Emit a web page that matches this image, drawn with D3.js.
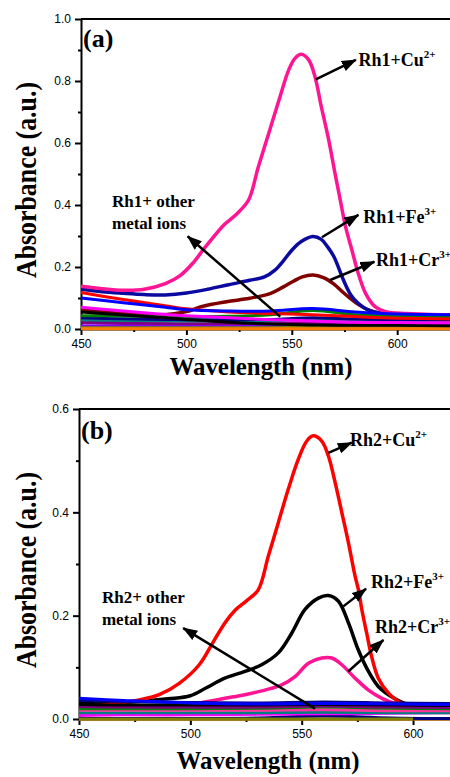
<!DOCTYPE html>
<html>
<head>
<meta charset="utf-8">
<script src="https://cdn.jsdelivr.net/npm/d3@7"></script>
<style>
  body { margin: 0; background: #fff; }
  svg { display: block; background: #fff; }
  .tick text { font-family: "Liberation Sans", Arial, sans-serif; font-size: 12px; fill: #000; }
  .serif { font-family: "Liberation Serif", "Times New Roman", serif; font-weight: bold; fill: #000; }
</style>
</head>
<body>
<script>
// ---------- Panel (a): Rh1 with metal ions ----------
const cuA_nm  = [450,460,470,480,490,497,503,508,513,518,524,529.5,534,539,544,548.5,551.5,554.5,558,561,564,567.5,570.5,573,575.5,578.5,581.5,585,589.5,594.5,605,626];
const cuA_abs = [0.138,0.130,0.125,0.128,0.146,0.172,0.212,0.256,0.298,0.337,0.372,0.416,0.52,0.63,0.74,0.835,0.873,0.886,0.868,0.814,0.717,0.61,0.502,0.416,0.33,0.255,0.18,0.115,0.072,0.056,0.05,0.045];

const feA_nm  = [450,460,470,480,490,500,510,520,530,537,542,546,550,554.5,560,564,567,570,574.5,578,581.5,586,594,605,626];
const feA_abs = [0.128,0.12,0.115,0.111,0.11,0.116,0.128,0.143,0.157,0.168,0.19,0.22,0.254,0.282,0.298,0.289,0.265,0.233,0.158,0.11,0.083,0.062,0.05,0.046,0.045];

const crA_nm  = [450,470,487,500,507,519,530,540,546,551,555,560,565,570,574,578,582,587,592,600,626];
const crA_abs = [0.062,0.05,0.046,0.056,0.072,0.088,0.099,0.115,0.136,0.155,0.168,0.174,0.166,0.145,0.12,0.097,0.077,0.06,0.05,0.045,0.04];

// remaining metal ions, sampled on a common grid
const otherA_nm = [450,470,490,500,520,540,560,580,600,626];
const otherA_red     = [0.118,0.095,0.075,0.065,0.055,0.05,0.046,0.04,0.035,0.032];
const otherA_blue    = [0.1,0.085,0.07,0.062,0.058,0.058,0.066,0.055,0.048,0.046];
const otherA_magenta = [0.07,0.058,0.047,0.043,0.036,0.03,0.026,0.022,0.021,0.02];
const otherA_black   = [0.055,0.045,0.036,0.031,0.022,0.016,0.013,0.012,0.012,0.01];
const otherA_green   = [0.043,0.042,0.04,0.04,0.041,0.046,0.06,0.046,0.041,0.04];
const otherA_navy    = [0.036,0.033,0.031,0.03,0.03,0.031,0.036,0.032,0.03,0.03];
const otherA_teal    = [0.028,0.026,0.025,0.025,0.025,0.026,0.03,0.025,0.022,0.022];
const otherA_purple  = [0.02,0.018,0.017,0.016,0.016,0.017,0.018,0.016,0.016,0.016];
const otherA_violet  = [0.01,0.009,0.008,0.008,0.008,0.008,0.009,0.008,0.008,0.008];
const otherA_olive   = [0.004,0.004,0.004,0.004,0.004,0.004,0.005,0.004,0.004,0.004];
const otherA_orange  = [0.001,0.001,0.001,0.001,0.001,0.001,0.001,0.001,0.001,0.001];

// ---------- Panel (b): Rh2 with metal ions ----------
const cuB_nm  = [450,460,470,477,486,495,504,510,515.5,520,525,530.5,535,539.5,544,548.5,552.3,555.2,559,562,565,568,571,574,575.5,577,579.2,581.4,584.4,589,595,602,618];
const cuB_abs = [0.02,0.026,0.032,0.037,0.047,0.069,0.105,0.147,0.186,0.21,0.228,0.25,0.315,0.38,0.445,0.503,0.538,0.548,0.538,0.509,0.458,0.4,0.341,0.276,0.25,0.212,0.166,0.121,0.079,0.05,0.03,0.024,0.02];

const feB_nm  = [450,470,490,500,507,515.5,524.5,532,539.5,545.5,551.5,557.5,562,566.5,571,575.4,580,584.4,590.4,596.4,605.4,618];
const feB_abs = [0.03,0.032,0.039,0.045,0.06,0.079,0.092,0.105,0.128,0.166,0.212,0.234,0.239,0.228,0.186,0.134,0.092,0.063,0.043,0.03,0.024,0.022];

const crB_nm  = [450,480,495,504,515.5,524.5,533.5,541,547,553,559,563.5,568,574,580,586,592,599.5,618];
const crB_abs = [0.02,0.022,0.025,0.031,0.04,0.047,0.056,0.066,0.082,0.108,0.118,0.118,0.105,0.079,0.056,0.04,0.03,0.024,0.02];

const otherB_nm = [450,470,500,530,560,590,618];
const otherB_blue    = [0.04,0.036,0.031,0.029,0.03,0.029,0.028];
const otherB_navy    = [0.036,0.034,0.032,0.031,0.033,0.031,0.03];
const otherB_black   = [0.028,0.027,0.027,0.027,0.028,0.027,0.026];
const otherB_purple  = [0.024,0.023,0.023,0.023,0.025,0.023,0.022];
const otherB_green   = [0.02,0.02,0.02,0.021,0.023,0.021,0.02];
const otherB_pink    = [0.017,0.017,0.017,0.017,0.018,0.016,0.016];
const otherB_teal    = [0.012,0.012,0.012,0.012,0.013,0.012,0.012];
const otherB_magenta = [0.007,0.008,0.008,0.009,0.01,0.011,0.012];
const otherB_navy2   = [0.001,0.001,0.001,0.002,0.006,0.002,0.001];
const otherB_orange  = [0,0,0,0,0,0,0];
const oliveB_nm  = [450,500,550,600];
const oliveB_abs = [0,0,0,0];

// axis ticks
const xMajor = [450,500,550,600];
const xMinor = [475,525,575];
const yMajorA = [0,0.2,0.4,0.6,0.8,1.0];
const yMinorA = [0.1,0.3,0.5,0.7,0.9];
const yMajorB = [0,0.2,0.4,0.6];
const yMinorB = [0.1,0.3,0.5];

// ---------- drawing ----------
const W = 450, H = 777;
const svg = d3.select("body").append("svg").attr("width", W).attr("height", H);

const defs = svg.append("defs");
defs.append("marker")
  .attr("id", "head")
  .attr("markerUnits", "userSpaceOnUse")
  .attr("viewBox", "0 0 15 11")
  .attr("markerWidth", 15).attr("markerHeight", 11)
  .attr("refX", 14).attr("refY", 5.5)
  .attr("orient", "auto")
  .append("path").attr("d", "M0,0 L15,5.5 L0,11 Z").attr("fill", "#000");

function drawPanel(p) {
  const x = d3.scaleLinear().domain(p.xDomain).range(p.xRange);
  const y = d3.scaleLinear().domain(p.yDomain).range(p.yRange);
  const g = svg.append("g");

  // frame: top border
  g.append("line")
    .attr("x1", p.xRange[0]).attr("x2", p.xRange[1])
    .attr("y1", p.yRange[1]).attr("y2", p.yRange[1])
    .attr("stroke", "#000").attr("stroke-width", 2);

  // left axis
  const yAxis = g.append("g").attr("transform", `translate(${p.xRange[0]},0)`)
    .call(d3.axisLeft(y).tickValues(p.yMajor).tickFormat(d3.format(".1f"))
      .tickSize(6).tickSizeOuter(0).tickPadding(4));
  yAxis.select(".domain").attr("stroke-width", 2);
  yAxis.selectAll(".tick line").attr("stroke-width", 2);
  g.append("g").attr("transform", `translate(${p.xRange[0]},0)`)
    .call(d3.axisLeft(y).tickValues(p.yMinor).tickFormat("").tickSize(3).tickSizeOuter(0))
    .call(s => s.select(".domain").remove())
    .selectAll(".tick line").attr("stroke-width", 2);

  // bottom axis
  const xAxis = g.append("g").attr("transform", `translate(0,${p.yRange[0]})`)
    .call(d3.axisBottom(x).tickValues(xMajor).tickFormat(d3.format("d"))
      .tickSize(6).tickSizeOuter(0).tickPadding(4));
  xAxis.select(".domain").attr("stroke-width", 2);
  xAxis.selectAll(".tick line").attr("stroke-width", 2);
  g.append("g").attr("transform", `translate(0,${p.yRange[0]})`)
    .call(d3.axisBottom(x).tickValues(xMinor).tickFormat("").tickSize(3).tickSizeOuter(0))
    .call(s => s.select(".domain").remove())
    .selectAll(".tick line").attr("stroke-width", 2);

  // spectra
  const line = d3.line()
    .x(d => x(d[0])).y(d => y(d[1]))
    .curve(d3.curveCatmullRom.alpha(0.5));
  g.append("g").selectAll("path")
    .data(p.series)
    .join("path")
    .attr("d", s => line(d3.zip(s.nm, s.abs)))
    .attr("fill", "none")
    .attr("stroke", s => s.color)
    .attr("stroke-width", s => s.width)
    .attr("stroke-linejoin", "round")
    .attr("stroke-linecap", "butt");

  // arrows
  g.append("g").selectAll("line")
    .data(p.arrows)
    .join("line")
    .attr("x1", a => x(a.from[0])).attr("y1", a => y(a.from[1]))
    .attr("x2", a => x(a.to[0])).attr("y2", a => y(a.to[1]))
    .attr("stroke", "#000").attr("stroke-width", 2.5)
    .attr("marker-end", "url(#head)");

  // ion labels
  p.labels.forEach(l => {
    const t = g.append("text").attr("class", "serif")
      .attr("x", x(l.at[0])).attr("y", y(l.at[1]))
      .attr("font-size", 18);
    t.append("tspan").text(l.text);
    if (l.sup) t.append("tspan").attr("font-size", 11).attr("dy", -8).text(l.sup);
  });

  // "other metal ions" note
  p.note.lines.forEach((txt, i) => {
    g.append("text").attr("class", "serif")
      .attr("x", x(p.note.at[0])).attr("y", y(p.note.at[1]) + i * 22)
      .attr("font-size", 17).text(txt);
  });

  // panel tag
  g.append("text").attr("class", "serif")
    .attr("x", p.xRange[0] + 2).attr("y", p.tagY)
    .attr("font-size", 26).text(p.tag);

  // axis titles
  const yMid = (p.yRange[0] + p.yRange[1]) / 2 + 6;
  g.append("text").attr("class", "serif")
    .attr("transform", `translate(36,${yMid}) rotate(-90)`)
    .attr("text-anchor", "middle")
    .attr("font-size", 29)
    .attr("textLength", 196).attr("lengthAdjust", "spacingAndGlyphs")
    .text("Absorbance (a.u.)");
  g.append("text").attr("class", "serif")
    .attr("x", p.xTitleX).attr("y", p.xTitleY)
    .attr("text-anchor", "middle")
    .attr("font-size", 26)
    .attr("textLength", 183).attr("lengthAdjust", "spacingAndGlyphs")
    .text("Wavelength (nm)");
}

const othersA = [
  ["#008080", otherA_teal], ["#800080", otherA_purple], ["#8000ff", otherA_violet],
  ["#808000", otherA_olive], ["#ff8000", otherA_orange], ["#000080", otherA_navy],
  ["#008000", otherA_green], ["#000000", otherA_black], ["#ff00ff", otherA_magenta],
  ["#ff0000", otherA_red], ["#0000ff", otherA_blue]
].map(([c, v]) => ({ nm: otherA_nm, abs: v, color: c, width: 3 }));

drawPanel({
  xDomain: [450, 626], xRange: [81, 452],
  yDomain: [0, 1], yRange: [329, 19],
  yMajor: yMajorA, yMinor: yMinorA,
  series: [
    { nm: crA_nm, abs: crA_abs, color: "#800000", width: 3.5 },
    { nm: feA_nm, abs: feA_abs, color: "#0a0aa0", width: 3.5 },
    { nm: cuA_nm, abs: cuA_abs, color: "#ff1493", width: 3.5 },
    ...othersA
  ],
  arrows: [
    { from: [561.4, 0.805], to: [580.4, 0.868] },
    { from: [564.3, 0.296], to: [581.6, 0.368] },
    { from: [568.2, 0.158], to: [589.2, 0.217] },
    { from: [544.5, 0.040], to: [500.6, 0.299] }
  ],
  labels: [
    { at: [581.6, 0.848], text: "Rh1+Cu", sup: "2+" },
    { at: [583.9, 0.343], text: "Rh1+Fe", sup: "3+" },
    { at: [589.9, 0.203], text: "Rh1+Cr", sup: "3+" }
  ],
  note: { at: [464.7, 0.394], lines: ["Rh1+ other", "metal ions"] },
  tag: "(a)", tagY: 47,
  xTitleX: 261, xTitleY: 375
});

const othersB = [
  ["#ff8000", otherB_orange], ["#000080", otherB_navy2], ["#ff00ff", otherB_magenta],
  ["#008080", otherB_teal], ["#ff3399", otherB_pink], ["#008000", otherB_green],
  ["#800080", otherB_purple], ["#000000", otherB_black], ["#000080", otherB_navy],
  ["#0000ff", otherB_blue]
].map(([c, v]) => ({ nm: otherB_nm, abs: v, color: c, width: 3 }));

drawPanel({
  xDomain: [450, 617.5], xRange: [79, 452],
  yDomain: [0, 0.6], yRange: [719, 409],
  yMajor: yMajorB, yMinor: yMinorB,
  series: [
    { nm: crB_nm, abs: crB_abs, color: "#ff1493", width: 3.5 },
    { nm: feB_nm, abs: feB_abs, color: "#000000", width: 3.5 },
    { nm: cuB_nm, abs: cuB_abs, color: "#ff0000", width: 3.5 },
    ...othersB,
    { nm: oliveB_nm, abs: oliveB_abs, color: "#808000", width: 3 }
  ],
  arrows: [
    { from: [562.0, 0.515], to: [572.5, 0.535] },
    { from: [568.7, 0.218], to: [578.9, 0.252] },
    { from: [570.9, 0.092], to: [586.7, 0.153] },
    { from: [556.0, 0.020], to: [496.8, 0.176] }
  ],
  labels: [
    { at: [571.7, 0.528], text: "Rh2+Cu", sup: "2+" },
    { at: [581.1, 0.254], text: "Rh2+Fe", sup: "3+" },
    { at: [582.9, 0.167], text: "Rh2+Cr", sup: "3+" }
  ],
  note: { at: [460.3, 0.225], lines: ["Rh2+ other", "metal ions"] },
  tag: "(b)", tagY: 439,
  xTitleX: 268, xTitleY: 769
});
</script>
</body>
</html>
